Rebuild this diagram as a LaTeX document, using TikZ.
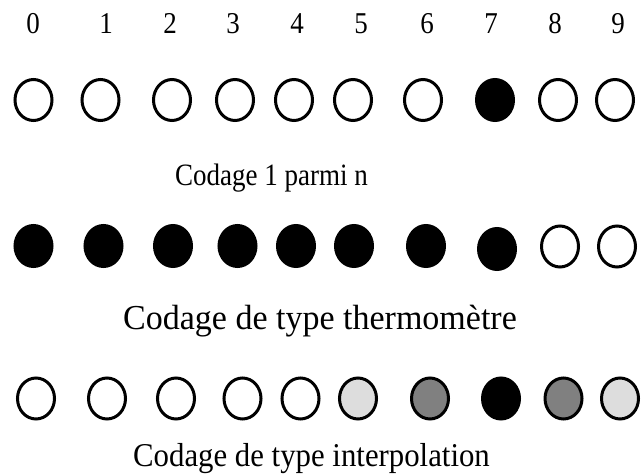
\documentclass[tikz,border=0pt]{standalone}
\usepackage{fontspec}
\setmainfont{Liberation Serif}
\usetikzlibrary{shapes.geometric}
\definecolor{lgray}{HTML}{DDDDDD}
\definecolor{mgray}{HTML}{808080}
\tikzset{
  bit/.style={ellipse, draw=black, line width=3pt, minimum width=37pt, minimum height=41pt, inner sep=0pt},
  off/.style={bit, fill=white},
  on/.style={bit, fill=black},
  lg/.style={bit, fill=lgray},
  mg/.style={bit, fill=mgray},
  digit/.style={anchor=base, inner sep=0pt, font=\fontsize{27}{30}\selectfont},
  caption/.style={anchor=base, inner sep=0pt}
}
\newcommand{\vstretch}[2]{\scalebox{1}[#1]{#2}}
\begin{document}
\begin{tikzpicture}[x=1pt,y=-1pt]
\useasboundingbox (0,0) rectangle (642,474);
% digits
\foreach \d/\x in {0/33,1/106,2/170,3/233,4/297,5/361,6/427,7/491,8/555,9/618}
  \node[digit] (d\d) at (\x,33) {\vstretch{1.12}{\d}};
% row 1
\foreach \i/\x/\s in {0/33.5/off,1/100.5/off,2/172/off,3/235/off,4/294/off,5/353/off,6/423/off,7/495/on,8/558/off,9/615/off}
  \node[\s] (a\i) at (\x,100) {};
\node[caption, font=\fontsize{27}{30}\selectfont] (c1) at (271.5,185) {\vstretch{1.15}{Codage 1 parmi n}};
% row 2
\foreach \i/\x/\y/\s in {0/33.5/246/on,1/103.5/246/on,2/173/246/on,3/237.5/246/on,4/296/246/on,5/354/246/on,6/426/246/on,7/497/249/on,8/560/246.5/off,9/617/246.5/off}
  \node[\s] (b\i) at (\x,\y) {};
\node[caption, font=\fontsize{34}{38}\selectfont] (c2) at (320,329) {\vstretch{1.03}{Codage de type thermomètre}};
% row 3
\foreach \i/\x/\s in {0/36/off,1/107/off,2/176/off,3/242.5/off,4/300.5/off,5/358/lg,6/430/mg,7/501/on,8/563.5/mg,9/620/lg}
  \node[\s] (e\i) at (\x,398.5) {};
\node[caption, font=\fontsize{30.8}{34}\selectfont] (c3) at (311.5,466) {\vstretch{1.08}{Codage de type interpolation}};
\end{tikzpicture}
\end{document}
